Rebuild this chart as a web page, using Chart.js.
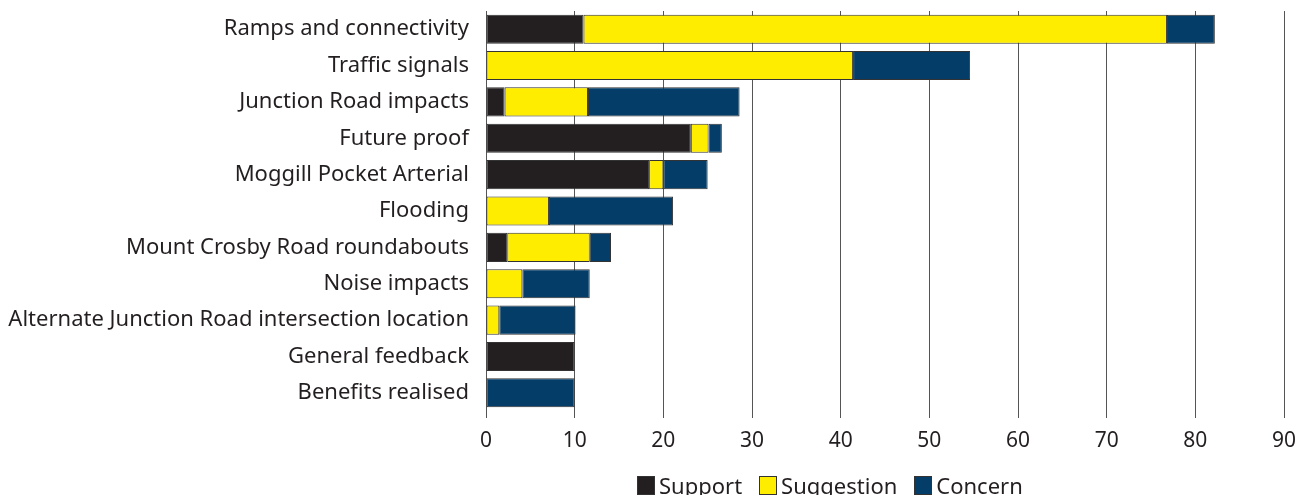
<!DOCTYPE html>
<html>
<head>
<meta charset="utf-8">
<script src="https://cdn.jsdelivr.net/npm/chart.js@4/dist/chart.umd.min.js"></script>
<style>
  html, body { margin: 0; padding: 0; background: #fff; overflow: hidden; }
  #wrap { position: relative; width: 1311px; height: 495px; }
  #legend {
    position: absolute; left: 637px; top: 470px;
    font: 22px "Noto Sans", sans-serif; color: #231f20;
    display: flex; white-space: nowrap;
  }
  #legend span.item { display: flex; align-items: center; margin-right: 17px; }
  #legend span.box { width: 18px; height: 19px; border: 1px solid #333; margin-right: 4px; box-sizing: border-box; }
</style>
</head>
<body>
<div id="wrap">
  <canvas id="chart" width="1311" height="495"></canvas>
  <div id="legend"></div>
</div>
<script>
// Feedback themes, top to bottom
const categories = [
  'Ramps and connectivity',
  'Traffic signals',
  'Junction Road impacts',
  'Future proof',
  'Moggill Pocket Arterial',
  'Flooding',
  'Mount Crosby Road roundabouts',
  'Noise impacts',
  'Alternate Junction Road intersection location',
  'General feedback',
  'Benefits realised'
];

// (stacked segment lengths)
const support    = [11, 0, 2.1, 23.1, 18.4, 0, 2.4, 0, 0, 10, 0];
const suggestion = [65.8, 41.4, 9.4, 2.0, 1.6, 7.1, 9.3, 4.1, 1.5, 0, 0];
const concern    = [5.4, 13.2, 17.1, 1.5, 5.0, 14.0, 2.4, 7.6, 8.6, 0, 10];

const xTicks = [0, 10, 20, 30, 40, 50, 60, 70, 80, 90];

const FONT = '"Noto Sans", sans-serif';
const INK = '#231f20';

const datasets = [
  { label: 'Support', data: support, backgroundColor: '#231f20' },
  { label: 'Suggestion', data: suggestion, backgroundColor: '#ffed00' },
  { label: 'Concern', data: concern, backgroundColor: '#033d68' }
].map(d => Object.assign(d, {
  borderColor: '#333',
  borderWidth: 1,
  borderSkipped: false,
  barPercentage: 0.8,
  categoryPercentage: 1.0
}));

const chart = new Chart(document.getElementById('chart').getContext('2d'), {
  type: 'bar',
  data: { labels: categories, datasets: datasets },
  options: {
    indexAxis: 'y',
    responsive: false,
    animation: false,
    layout: { padding: { top: 11, right: 27, bottom: 39, left: 0 } },
    plugins: {
      legend: { display: false },
      tooltip: { enabled: false }
    },
    scales: {
      x: {
        stacked: true,
        min: 0,
        max: 90,
        afterBuildTicks: s => { s.ticks = xTicks.map(v => ({ value: v })); },
        afterFit: s => { s.height = 45; },
        grid: { color: '#555', lineWidth: 1, tickLength: 7, drawOnChartArea: true },
        border: { display: false },
        ticks: { font: { family: FONT, size: 21 }, color: INK, padding: 10, maxRotation: 0 }
      },
      y: {
        stacked: true,
        afterFit: s => { s.width = 486; s.paddingTop = 0; s.paddingBottom = 0; },
        grid: { display: false, drawTicks: false },
        border: { display: false },
        ticks: { font: { family: FONT, size: 22 }, color: INK, padding: 17, autoSkip: false }
      }
    }
  }
});

// Legend as HTML so it can sit where the original has it
const legendEl = document.getElementById('legend');
chart.data.datasets.forEach(d => {
  const item = document.createElement('span');
  item.className = 'item';
  const box = document.createElement('span');
  box.className = 'box';
  box.style.background = d.backgroundColor;
  item.appendChild(box);
  item.appendChild(document.createTextNode(d.label));
  legendEl.appendChild(item);
});
</script>
</body>
</html>
